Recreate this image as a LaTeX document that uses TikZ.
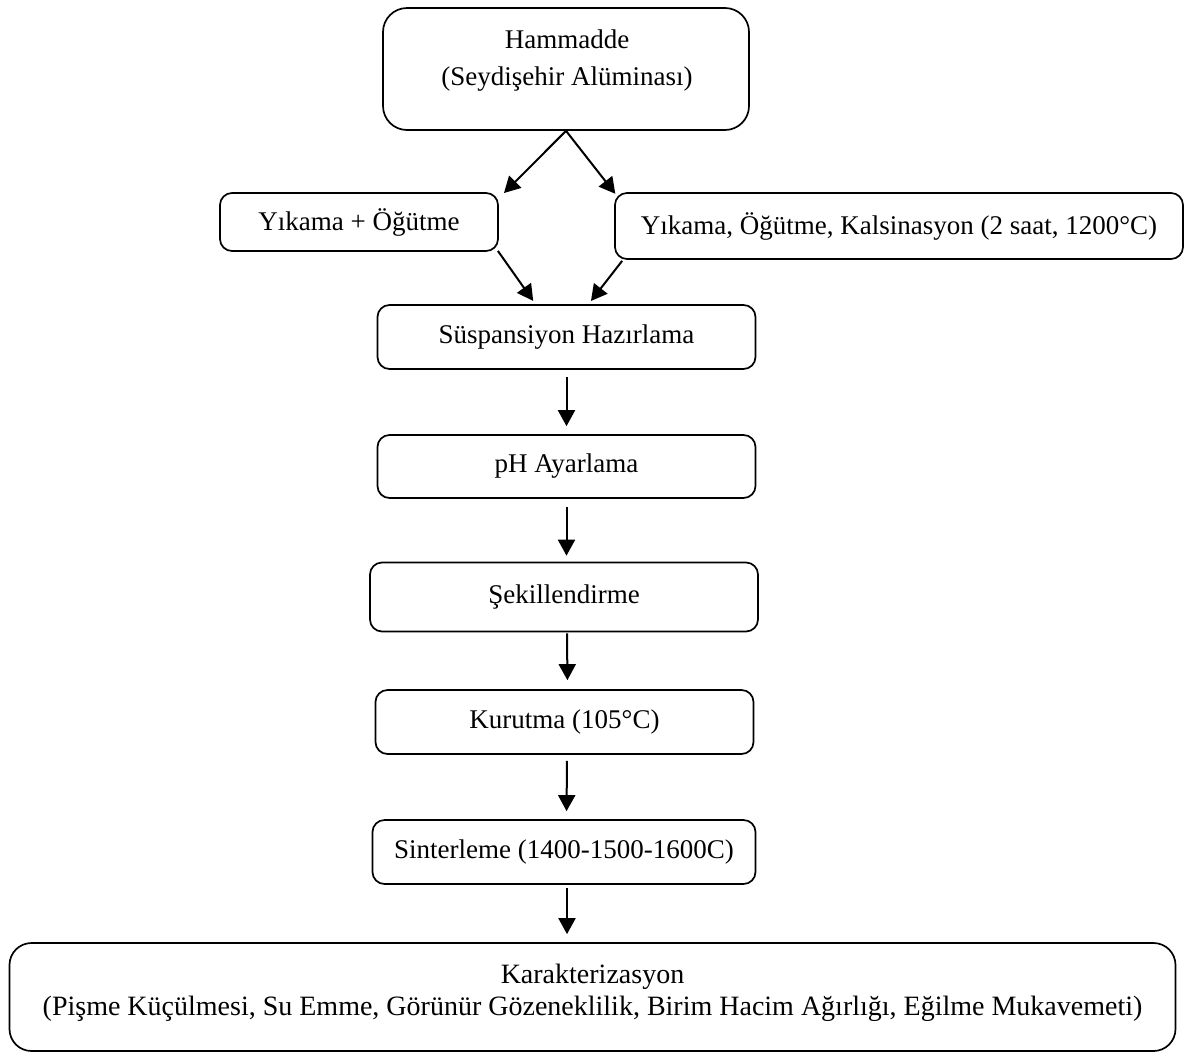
\documentclass[tikz,border=0pt]{standalone}
\usepackage{fontspec}
\setmainfont{Liberation Serif}
\usetikzlibrary{arrows.meta}
\begin{document}
\begin{tikzpicture}[x=1pt,y=-1pt,
  box/.style={draw, rounded corners=12pt, line width=1.7pt, inner sep=0pt, align=center,
    font=\fontsize{27}{31}\selectfont},
  txt/.style={inner sep=0pt, anchor=base, font=\fontsize{27}{31}\selectfont},
  arr/.style={line width=2pt, -{Triangle[width=17pt,length=16pt]}}]
\useasboundingbox (0,0) rectangle (1185,1053);
% boxes
\node[box, rounded corners=24pt, minimum width=366pt, minimum height=122pt] (b1) at (566,69) {};
\node[txt] (t1a) at (567,48) {Hammadde};
\node[txt] (t1b) at (567,85) {(Seydişehir Alüminası)};
\node[box, minimum width=278pt, minimum height=58pt] (b2) at (359,222) {Yıkama + Öğütme};
\node[box, minimum width=568pt, minimum height=66pt] (b3) at (899,226) {Yıkama, Öğütme, Kalsinasyon (2 saat, 1200°C)};
\node[box, minimum width=378pt, minimum height=64pt] (b4) at (566.5,337) {Süspansiyon Hazırlama};
\node[box, minimum width=378pt, minimum height=63pt] (b5) at (566.5,466.5) {pH Ayarlama};
\node[box, minimum width=388pt, minimum height=69pt] (b6) at (564,597) {Şekillendirme};
\node[box, minimum width=378pt, minimum height=64pt] (b7) at (564.5,722) {Kurutma (105°C)};
\node[box, minimum width=383pt, minimum height=64pt] (b8) at (564,852) {Sinterleme (1400-1500-1600C)};
\node[box, rounded corners=22pt, minimum width=1166pt, minimum height=108pt] (b9) at (592.5,997) {};
\node[txt, font=\fontsize{28}{32}\selectfont] (t9a) at (592.5,983) {Karakterizasyon};
\node[txt, font=\fontsize{28}{32}\selectfont] (t9b) at (592.5,1015) {(Pişme Küçülmesi, Su Emme, Görünür Gözeneklilik, Birim Hacim Ağırlığı, Eğilme Mukavemeti)};
% arrows
\coordinate (c4l) at ([xshift=-31pt]b4.north);
\coordinate (c4r) at ([xshift=22pt]b4.north);
\coordinate (c8) at ([xshift=3pt]b8.south);
\draw[arr, shorten >=3pt] (b1.south) -- ([shift={(3pt,-3pt)}]b2.north east);
\draw[arr, shorten >=3pt] (b1.south) -- ([shift={(3pt,-4pt)}]b3.north west);
\draw[arr, shorten >=4pt] ([shift={(-1pt,1pt)}]b2.south east) -- (c4l);
\draw[arr, shorten >=4pt] ([shift={(8pt,-1pt)}]b3.south west) -- (c4r);
\draw[arr, shorten <=7pt, shorten >=8pt] (b4.south) -- (b5.north);
\draw[arr, shorten <=8pt, shorten >=6pt] (b5.south) -- (b6.north -| b5.south);
\draw[arr, shorten <=1pt, shorten >=9pt] ([xshift=3pt]b6.south) -- ([xshift=3pt]b7.north);
\draw[arr, shorten <=6pt, shorten >=8pt] ([xshift=2.5pt]b7.south) -- ([xshift=2.5pt]b8.north);
\draw[arr, shorten <=3pt, shorten >=8pt] (c8) -- (b9.north -| c8);
\end{tikzpicture}
\end{document}
